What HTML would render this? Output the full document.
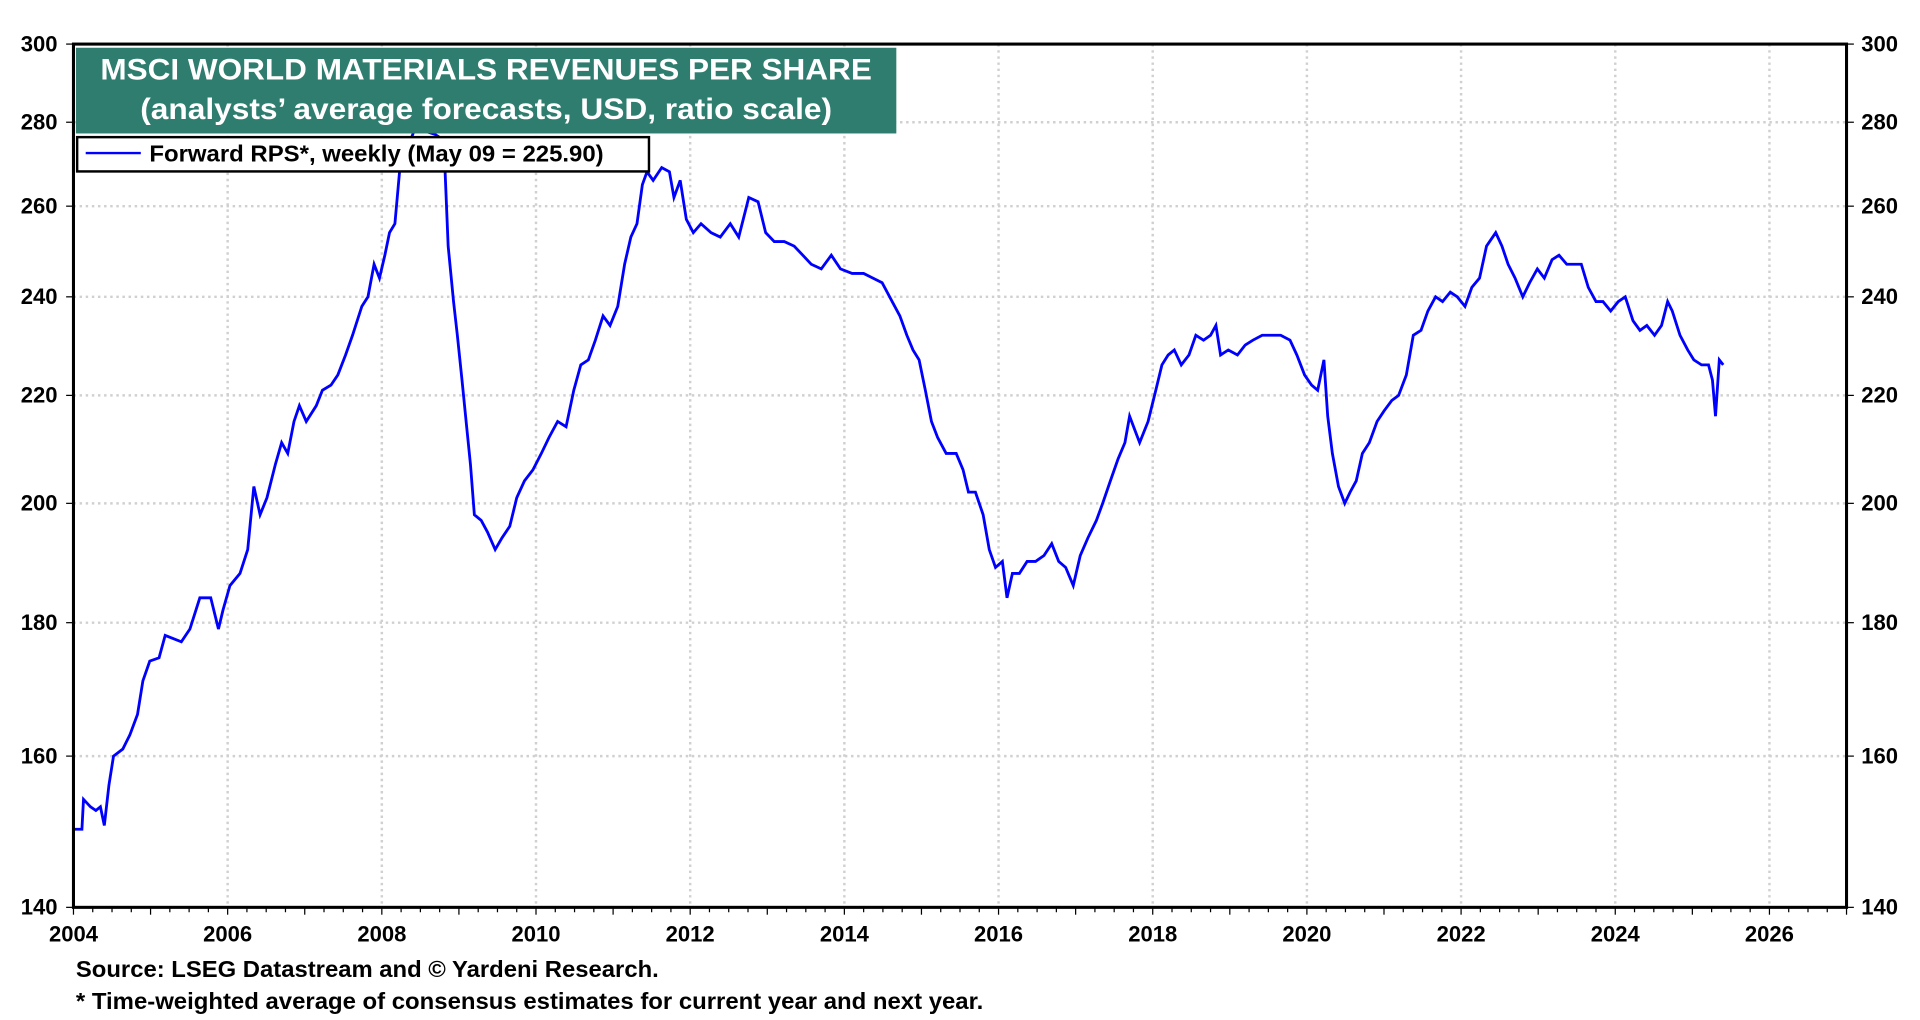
<!DOCTYPE html>
<html><head><meta charset="utf-8"><style>
html,body{margin:0;padding:0;background:#fff;}
svg{display:block;font-family:"Liberation Sans",Arial,sans-serif;font-weight:bold;}
</style></head><body>
<svg id="chart" width="1920" height="1020" viewBox="0 0 1568 833" preserveAspectRatio="none" xmlns="http://www.w3.org/2000/svg">
<g id="grid"></g>
<g id="series"></g>
<rect x="60" y="36" width="1448" height="705" fill="none" stroke="#000" stroke-width="2.5"/>
<g id="axes"></g>
<g>
<rect x="62" y="39" width="670" height="70" fill="#2e7d6e"/>
<text x="397" y="65" text-anchor="middle" font-size="24" textLength="630" lengthAdjust="spacingAndGlyphs" fill="#fff">MSCI WORLD MATERIALS REVENUES PER SHARE</text>
<text x="397" y="97" text-anchor="middle" font-size="24" textLength="565" lengthAdjust="spacingAndGlyphs" fill="#fff">(analysts’ average forecasts, USD, ratio scale)</text>
</g>
<g>
<rect x="63" y="112" width="467" height="28" fill="#fff" stroke="#000" stroke-width="2"/>
<line x1="70" y1="125" x2="115" y2="125" stroke="#0000ff" stroke-width="2"/>
<text x="122" y="132" font-size="19" textLength="371" lengthAdjust="spacingAndGlyphs">Forward RPS*, weekly (May 09 = 225.90)</text>
</g>
<text x="62" y="798" font-size="19" textLength="476" lengthAdjust="spacingAndGlyphs">Source: LSEG Datastream and © Yardeni Research.</text>
<text x="62" y="824" font-size="19" textLength="741" lengthAdjust="spacingAndGlyphs">* Time-weighted average of consensus estimates for current year and next year.</text>
</svg>
<script>
const yearTicks=[2004,2006,2008,2010,2012,2014,2016,2018,2020,2022,2024,2026];
const valueTicks=[140,160,180,200,220,240,260,280,300];
const years=[2004.0,2004.11,2004.13,2004.22,2004.29,2004.35,2004.4,2004.46,2004.52,2004.64,2004.73,2004.83,2004.9,2004.99,2005.11,2005.19,2005.4,2005.51,2005.64,2005.78,2005.88,2005.94,2006.03,2006.16,2006.26,2006.34,2006.42,2006.51,2006.62,2006.7,2006.78,2006.86,2006.93,2007.02,2007.15,2007.23,2007.34,2007.43,2007.53,2007.62,2007.74,2007.82,2007.9,2007.97,2008.04,2008.1,2008.17,2008.23,2008.32,2008.42,2008.53,2008.69,2008.77,2008.82,2008.86,2008.93,2008.98,2009.04,2009.1,2009.15,2009.2,2009.29,2009.37,2009.47,2009.56,2009.66,2009.75,2009.85,2009.96,2010.07,2010.17,2010.28,2010.39,2010.49,2010.58,2010.68,2010.77,2010.87,2010.96,2011.06,2011.15,2011.23,2011.31,2011.38,2011.44,2011.52,2011.63,2011.73,2011.79,2011.87,2011.95,2012.04,2012.14,2012.27,2012.39,2012.52,2012.63,2012.76,2012.88,2012.98,2013.09,2013.22,2013.35,2013.46,2013.57,2013.7,2013.83,2013.95,2014.1,2014.25,2014.37,2014.49,2014.62,2014.72,2014.81,2014.89,2014.97,2015.05,2015.13,2015.21,2015.32,2015.45,2015.54,2015.61,2015.7,2015.8,2015.88,2015.96,2016.05,2016.11,2016.18,2016.27,2016.37,2016.48,2016.59,2016.69,2016.78,2016.87,2016.97,2017.06,2017.16,2017.27,2017.35,2017.45,2017.55,2017.64,2017.7,2017.83,2017.94,2018.04,2018.12,2018.2,2018.28,2018.37,2018.47,2018.56,2018.66,2018.75,2018.82,2018.88,2018.98,2019.1,2019.2,2019.3,2019.42,2019.55,2019.66,2019.78,2019.87,2019.97,2020.06,2020.14,2020.22,2020.27,2020.33,2020.41,2020.49,2020.56,2020.64,2020.72,2020.81,2020.91,2021.0,2021.1,2021.19,2021.29,2021.38,2021.48,2021.57,2021.67,2021.76,2021.86,2021.95,2022.05,2022.14,2022.24,2022.33,2022.45,2022.53,2022.61,2022.7,2022.8,2022.89,2022.99,2023.08,2023.18,2023.27,2023.37,2023.46,2023.56,2023.65,2023.75,2023.84,2023.94,2024.04,2024.13,2024.23,2024.32,2024.41,2024.51,2024.6,2024.68,2024.74,2024.84,2024.94,2025.02,2025.12,2025.21,2025.26,2025.3,2025.35,2025.4];
const values=[150,150,154,153,152.5,153,150.5,156,160,161,163,166,171,174,174.5,178,177,179,184,184,179,182,186,188,192,203,198,201,207,211,209,215,218,215,218,221,222,224,228,232,238,240,247,244,249,254,256,268,273,278,278,277,276,268,251,239,232,223,214,207,198,197,195,192,194,196,201,204,206,209,212,215,214,221,226,227,231,236,234,238,247,253,256,265,268,266,269,268,262,266,257,254,256,254,253,256,253,262,261,254,252,252,251,249,247,246,249,246,245,245,244,243,239,236,232,229,227,221,215,212,209,209,206,202,202,198,192,189,190,184,188,188,190,190,191,193,190,189,186,191,194,197,200,204,208,211,216,211,215,221,226,228,229,226,228,232,231,232,234,228,229,228,230,231,232,232,232,231,228,224,222,221,227,216,209,203,200,202,204,209,211,215,217,219,220,224,232,233,237,240,239,241,240,238,242,244,251,254,251,247,244,240,243,246,244,248,249,247,247,247,242,239,239,237,239,240,235,233,234,232,234,239,237,232,229,227,226,226,223,216,227,226];
const NS="http://www.w3.org/2000/svg";
const L=60,R=1508,T=36,B=741,X0=2004,X1=2027,V0=140,V1=300;
function xs(y){return L+(y-X0)/(X1-X0)*(R-L);}
function ys(v){return B-Math.log(v/V0)/Math.log(V1/V0)*(B-T);}
function mk(tag,attrs,parent){const e=document.createElementNS(NS,tag);for(const k in attrs)e.setAttribute(k,attrs[k]);parent.appendChild(e);return e;}
const grid=document.getElementById('grid'),axes=document.getElementById('axes'),series=document.getElementById('series');
yearTicks.forEach(y=>{
  if(y>X0){const g=mk('line',{x1:xs(y),x2:xs(y),y1:T,y2:B,stroke:'#d0d0d0','stroke-width':2,'stroke-dasharray':'2,3'},grid);
  
  }
  const t=mk('text',{x:xs(y),y:B+28,'text-anchor':'middle','font-size':18},axes);t.textContent=y;
  
  
});
for(let q=X0;q<=X1;q+=0.25){const m=mk('line',{x1:xs(q),x2:xs(q),y1:B,y2:B+(Number.isInteger(q)?6:4),stroke:'#000','stroke-width':1},axes);
  
  }
valueTicks.forEach(v=>{
  if(v>V0&&v<V1){const g=mk('line',{x1:L,x2:R,y1:ys(v),y2:ys(v),stroke:'#d0d0d0','stroke-width':2,'stroke-dasharray':'2,3'},grid);
  
  }
  const a=mk('text',{x:L-13,y:ys(v)+6,'text-anchor':'end','font-size':18},axes);a.textContent=v;
  
  
  const b=mk('text',{x:R+12,y:ys(v)+6,'text-anchor':'start','font-size':18},axes);b.textContent=v;
  
  
  [[L-6,L],[R,R+6]].forEach(p=>{const t=mk('line',{x1:p[0],x2:p[1],y1:ys(v),y2:ys(v),stroke:'#000','stroke-width':1},axes);
  
  });
});
let d='';
years.forEach((y,i)=>{d+=(i?'L':'M')+xs(y).toFixed(1)+' '+ys(values[i]).toFixed(1)+' ';});
const p=mk('path',{d:d,fill:'none',stroke:'#0000ff','stroke-width':2.3,'stroke-linejoin':'miter'},series);


</script>
</body></html>
